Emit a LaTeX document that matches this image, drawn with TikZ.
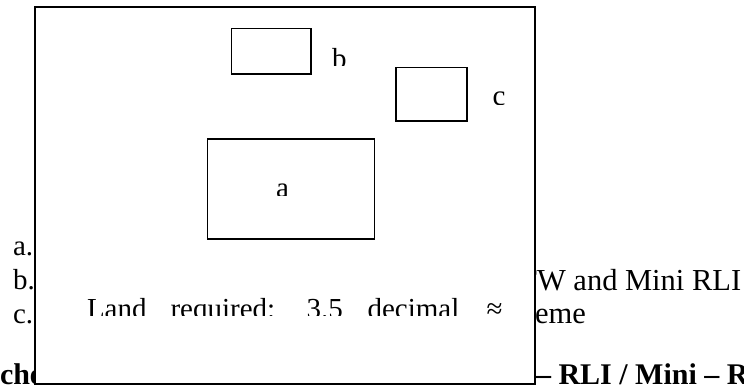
\documentclass[tikz,border=0pt]{standalone}
\usepackage{fontspec}
\setmainfont{Liberation Serif}
\begin{document}
\begin{tikzpicture}[x=1pt,y=-1pt,
  txt/.style={inner sep=0pt, outer sep=0pt, anchor=base west, font=\fontsize{29}{34}\selectfont},
  bigtxt/.style={txt, font=\fontsize{30.5}{34}\selectfont},
  btxt/.style={txt, font=\fontsize{30}{34}\selectfont\bfseries},
  frame/.style={draw=black, line width=1.2pt, fill=white, inner sep=0pt, outer sep=0pt},
  box/.style={draw=black, line width=1.2pt, inner sep=0pt, outer sep=0pt}]
\useasboundingbox (0,0) rectangle (744,389);
% text behind the frame
\node[txt] (la) at (13,255) {a.};
\node[txt] (lb) at (13,289) {b.};
\node[txt] (lc) at (13,323) {c.};
\node[bigtxt] (rb) at (518.4,290) {TW and Mini RLI};
\node[bigtxt] (rc) at (535,323) {eme};
\node[btxt] (bl) at (0,384) {che};
\node[btxt] (br) at (536,384) {– RLI / Mini – R};
% frame
\node[frame, minimum width=500pt, minimum height=377pt] (frame) at (285,195.5) {};
% boxes
\node[box, minimum width=79.3pt, minimum height=45.7pt] (boxb) at (271.35,51.15) {};
\node[box, minimum width=71pt, minimum height=53.7pt] (boxc) at (431.5,94.15) {};
\node[box, minimum width=167pt, minimum height=100pt] (boxa) at (291.2,189) {};
% clipped labels
\begin{scope}
\clip (320,30) rectangle (360,65);
\node[txt] (lbb) at (332,68) {b};
\end{scope}
\begin{scope}
\clip (480,80) rectangle (520,104);
\node[txt] (lbc) at (492.5,105.5) {c};
\end{scope}
\begin{scope}
\clip (260,170) rectangle (300,195);
\node[txt] (lba) at (276,197.5) {a};
\end{scope}
\begin{scope}
\clip (60,285) rectangle (520,315);
\node[txt] (w1) at (87,318.2) {Land};
\node[txt] (w2) at (170.5,318.2) {required:};
\node[txt] (w3) at (306.7,318.2) {3.5};
\node[txt] (w4) at (367.5,318.2) {decimal};
\node[txt] (w5) at (486.7,318.2) {≈};
\end{scope}
\end{tikzpicture}
\end{document}
